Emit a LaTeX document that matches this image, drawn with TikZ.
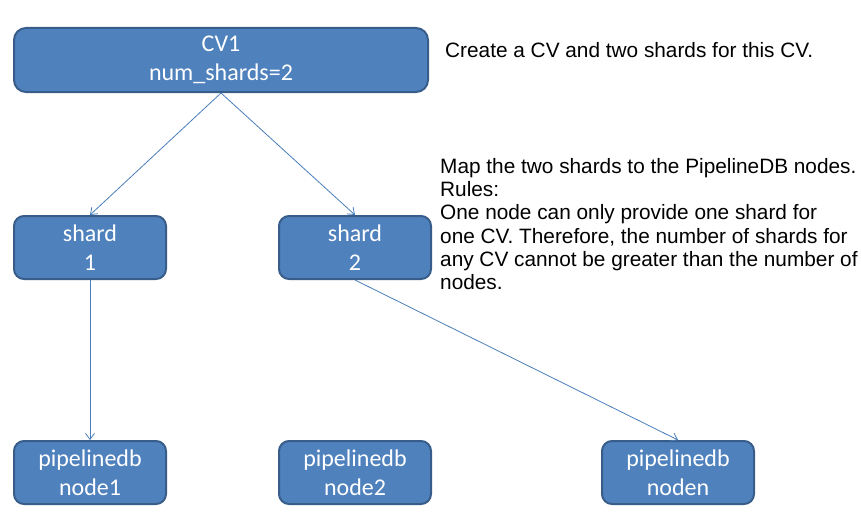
\documentclass[tikz,border=0pt]{standalone}
\usepackage{fontspec}
\setmainfont{Liberation Sans}
\newfontfamily\calibri{Carlito}
\usetikzlibrary{arrows.meta,positioning}
\definecolor{boxfill}{RGB}{79,129,189}
\definecolor{boxline}{RGB}{56,93,138}
\definecolor{linkcol}{RGB}{74,126,187}

\begin{document}
\begin{tikzpicture}[x=1pt,y=1pt,
    cvbox/.style={draw=boxline, fill=boxfill, line width=2pt, rounded corners=10pt, text=white, align=center,
      font=\calibri\fontsize{24}{29}\selectfont, minimum width=152pt, minimum height=63pt, inner sep=0pt},
    note/.style={align=left, inner sep=0pt, font=\fontsize{20.8}{23.3}\selectfont},
    link/.style={color=linkcol, line width=0.8pt, -{Straight Barb[length=6pt,width=9pt]}}]
    \useasboundingbox (0,0) rectangle (861,-519);
    %continuous view
    \node[cvbox, minimum width=414pt, minimum height=64pt, rounded corners=12pt] (cv1) at (221,-60) {CV1\\num\_shards=2};
    %shards
    \node[cvbox, below=122pt of cv1.south west, anchor=north west] (shard_1) {shard\\1};
    \node[cvbox] (shard_2) [right=111pt of shard_1] {shard\\2};
    %pipelinedb nodes
    \node[cvbox] (node_1) [below=160pt of shard_1] {pipelinedb\\node1};
    \node[cvbox] (node_2) [below=160pt of shard_2] {pipelinedb\\node2};
    \node[cvbox] (node_n) [right=169pt of node_2] {pipelinedb\\noden};

    %notes
    \node[note, anchor=base west] (note_create) at (445,-58) {Create a CV and two shards for this CV.};
    \node[note, anchor=north west] (note_map) at (440,-158) {Map the two shards to the PipelineDB nodes.\\Rules:\\One node can only provide one shard for\\one CV. Therefore, the number of shards for\\any CV cannot be greater than the number of\\nodes.};

    \path[link]
     (cv1.south) edge (shard_1.north)
     (cv1.south) edge (shard_2.north)
     (shard_1.south) edge (node_1.north)
     (shard_2.south) edge (node_n.north);
\end{tikzpicture}
\end{document}
